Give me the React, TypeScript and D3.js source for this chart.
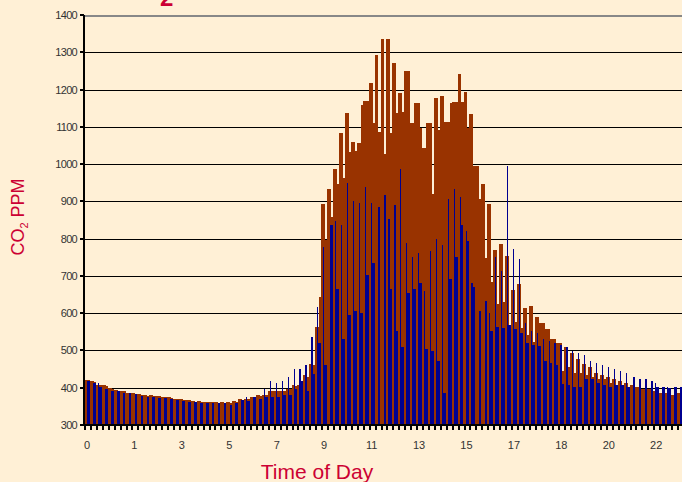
import React from "react";
import * as d3 from "d3";

// category labels (every 8th category)
const xLabels = ["0", "1", "3", "5", "7", "9", "11", "13", "15", "17", "18", "20", "22"];
const yTicks = [300, 400, 500, 600, 700, 800, 900, 1000, 1100, 1200, 1300, 1400];

// Brown series (main bar in each category)
const brownA = [
  422, 417, 408, 406, 398, 393, 391, 387, 385, 382,
  380, 380, 378, 375, 374, 370, 369, 368, 365, 364,
  363, 362, 362, 362, 361, 364, 369, 369, 374, 381,
  381, 392, 392, 390, 397, 406, 408, 433, 465, 562,
  894, 933, 987, 1083, 1136, 1060, 1057, 1169, 1217, 1293,
  1336, 1336, 1271, 1190, 1250, 1109, 1163, 1044, 1109, 1178,
  1184, 1114, 1167, 1243, 1194, 1135, 996, 947, 894, 770,
  786, 754, 663, 679, 615, 620, 590, 573, 557, 530,
  519, 508, 492, 476, 465, 455, 439, 433, 428, 423,
  417, 412, 407, 401, 396, 396, 390, 385, 385, 380,
  385, 385,
];
// Brown series (second, narrow bar in each category)
const brownB = [
  420, 415, 406, 404, 396, 391, 390, 386, 384, 380,
  378, 378, 377, 374, 372, 369, 368, 366, 363, 362,
  362, 361, 360, 360, 358, 363, 366, 369, 374, 378,
  381, 392, 390, 390, 397, 404, 410, 430, 460, 643,
  797, 858, 947, 963, 1033, 1035, 1158, 1169, 1110, 1087,
  1028, 1083, 1137, 1141, 1250, 1163, 1098, 1109, 921, 1091,
  1114, 1163, 1167, 1167, 1096, 996, 906, 749, 684, 625,
  631, 568, 577, 559, 541, 523, 573, 557, 530, 519,
  444, 455, 439, 439, 433, 428, 423, 423, 412, 406,
  401, 396, 401, 396, 390, 390, 385, 385, 380, 380,
  385, 385,
];
// Blue series (wide bar)
const blueA = [
  417, 412, 401, 396, 391, 391, 387, 387, 382, 378,
  376, 374, 372, 372, 370, 366, 365, 363, 361, 360,
  359, 359, 358, 358, 354, 360, 366, 365, 376, 371,
  376, 376, 376, 381, 381, 396, 417, 392, 438, 519,
  461, 836, 665, 532, 595, 606, 600, 702, 735, 885,
  917, 665, 552, 509, 654, 665, 681, 504, 498, 472,
  387, 692, 751, 836, 794, 670, 606, 633, 552, 563,
  560, 568, 557, 547, 520, 515, 512, 471, 466, 460,
  410, 406, 401, 401, 423, 423, 412, 406, 401, 406,
  406, 401, 428, 423, 423, 417, 401, 401, 398, 401,
  401, 398,
];
// Blue series (thin spike readings, 0 = none)
const blueB = [
  0, 0, 412, 0, 0, 0, 0, 0, 0, 0,
  0, 0, 0, 0, 0, 0, 0, 0, 0, 0,
  0, 0, 0, 0, 0, 0, 0, 374, 0, 0,
  396, 417, 412, 417, 428, 449, 449, 460, 535, 616,
  777, 0, 847, 836, 949, 901, 896, 938, 896, 0,
  0, 853, 890, 987, 788, 751, 761, 659, 767, 799,
  783, 906, 933, 912, 820, 681, 0, 0, 600, 751,
  713, 996, 772, 745, 574, 552, 546, 530, 525, 519,
  514, 508, 498, 492, 487, 471, 466, 460, 455, 449,
  444, 439, 0, 0, 0, 0, 412, 0, 401, 0,
  0, 0,
];

const W = 682;
const H = 482;
const RED = "#CC0033";
const BROWN = "#993300";
const BLUE = "#000090";
const BG = "#FFF0D6";
const FONT = "'Liberation Sans', Arial, sans-serif";

export default function App() {
  const n = brownA.length;
  const left = 84;
  const pitch = 5.93;
  const x = d3
    .scaleBand<number>()
    .domain(d3.range(n))
    .range([left, left + pitch * n])
    .paddingInner(0)
    .paddingOuter(0);
  const y = d3.scaleLinear().domain([300, 1400]).range([425, 15]);
  const bw = x.bandwidth();
  const base = y(300);

  return (
    <svg
      width={W}
      height={H}
      style={{ position: "absolute", left: 0, top: 0, display: "block" }}
    >
      <rect x={0} y={0} width={W} height={H} fill={BG} />
      {/* title fragment (cut off at top, as in the source) */}
      <text x={160} y={6} fontFamily={FONT} fontSize={24} fontWeight="bold" fill={RED}>
        2
      </text>

      <g shapeRendering="crispEdges">
        {/* gridlines */}
        {yTicks.map((t) =>
          t === 300 ? null : (
            <line
              key={"g" + t}
              x1={left}
              x2={W}
              y1={Math.round(y(t)) + 0.5}
              y2={Math.round(y(t)) + 0.5}
              stroke={t === 1400 ? "#888888" : "#000000"}
              strokeWidth={t === 1400 ? 2 : 1}
            />
          )
        )}

        {/* bars */}
        {brownA.map((v, i) => (
          <rect key={"ba" + i} x={x(i)!} y={y(v)} width={3.9} height={base - y(v)} fill={BROWN} />
        ))}
        {brownB.map((v, i) => (
          <rect key={"bb" + i} x={x(i)! + 3.9} y={y(v)} width={bw - 3.9} height={base - y(v)} fill={BROWN} />
        ))}
        {blueA.map((v, i) => (
          <rect key={"la" + i} x={x(i)! + 3.2} y={y(v)} width={2.7} height={base - y(v)} fill={BLUE} />
        ))}
        {blueB.map((v, i) =>
          v > 0 ? (
            <rect key={"lb" + i} x={x(i)! + 2} y={y(v)} width={1.2} height={base - y(v)} fill={BLUE} />
          ) : null
        )}

        {/* axes */}
        <line x1={left} x2={left} y1={15} y2={426} stroke="#000" strokeWidth={2} />
        <line x1={left - 1} x2={W} y1={base} y2={base} stroke="#000" strokeWidth={2} />
        {yTicks.map((t) => (
          <line key={"yt" + t} x1={left - 4} x2={left} y1={y(t)} y2={y(t)} stroke="#000" strokeWidth={2} />
        ))}
        {d3.range(n).map((i) => (
          <line
            key={"xt" + i}
            x1={x(i)! + 1}
            x2={x(i)! + 1}
            y1={base + 1}
            y2={base + 5}
            stroke="#000"
            strokeWidth={2}
          />
        ))}
      </g>

      {yTicks.map((t) => (
        <text
          key={"yl" + t}
          x={77}
          y={y(t) + 4}
          textAnchor="end"
          fontFamily={FONT}
          fontSize={11}
          letterSpacing={-0.7}
          fill="#333333"
        >
          {t}
        </text>
      ))}
      {xLabels.map((lab, j) => (
        <text
          key={"xl" + j}
          x={x(j * 8)! + bw / 2}
          y={449}
          textAnchor="middle"
          fontFamily={FONT}
          fontSize={11}
          fill="#333333"
        >
          {lab}
        </text>
      ))}

      {/* axis titles */}
      <text
        transform="translate(24,217) rotate(-90)"
        textAnchor="middle"
        fontFamily={FONT}
        fontSize={18}
        fill={RED}
      >
        CO
        <tspan fontSize={11} dy={4}>
          2
        </tspan>
        <tspan dy={-4}> PPM</tspan>
      </text>
      <text x={317} y={479} textAnchor="middle" fontFamily={FONT} fontSize={21} fill={RED}>
        Time of Day
      </text>
    </svg>
  );
}
